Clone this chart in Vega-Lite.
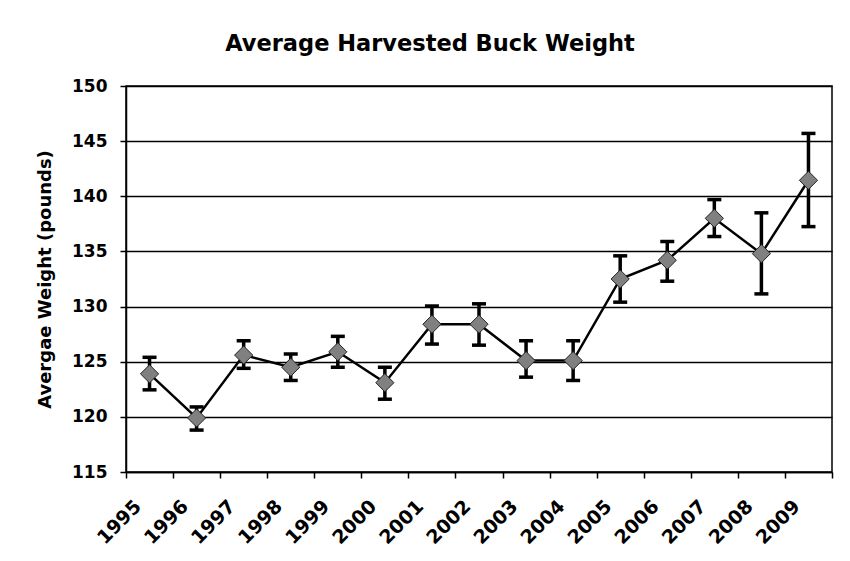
{
  "$schema": "https://vega.github.io/schema/vega-lite/v6.json",
  "autosize": "none",
  "width": 706,
  "height": 386,
  "padding": {"left": 126, "top": 86, "right": 18, "bottom": 89},
  "background": "white",
  "title": {
    "text": "Average Harvested Buck Weight",
    "anchor": "middle",
    "baseline": "alphabetic",
    "offset": 4,
    "dx": -49,
    "font": "DejaVu Sans",
    "fontSize": 22.5,
    "fontWeight": "bold",
    "color": "black"
  },
  "config": {
    "view": {"stroke": "black", "strokeWidth": 1.5},
    "axis": {
      "labelFont": "DejaVu Sans",
      "labelFontWeight": "bold",
      "labelColor": "black",
      "titleFont": "DejaVu Sans",
      "titleFontWeight": "bold",
      "titleColor": "black",
      "domainColor": "black",
      "domainWidth": 1.5,
      "tickColor": "black",
      "tickWidth": 1.5,
      "tickSize": 6
    }
  },
  "data": {
    "values": [
      {"year": "1995", "weight": 123.9, "lo": 122.45, "hi": 125.4},
      {"year": "1996", "weight": 119.9, "lo": 118.8, "hi": 120.9},
      {"year": "1997", "weight": 125.6, "lo": 124.4, "hi": 126.9},
      {"year": "1998", "weight": 124.5, "lo": 123.3, "hi": 125.7},
      {"year": "1999", "weight": 125.9, "lo": 124.5, "hi": 127.3},
      {"year": "2000", "weight": 123.1, "lo": 121.6, "hi": 124.5},
      {"year": "2001", "weight": 128.4, "lo": 126.6, "hi": 130.05},
      {"year": "2002", "weight": 128.4, "lo": 126.5, "hi": 130.25},
      {"year": "2003", "weight": 125.1, "lo": 123.6, "hi": 126.9},
      {"year": "2004", "weight": 125.1, "lo": 123.3, "hi": 126.9},
      {"year": "2005", "weight": 132.5, "lo": 130.4, "hi": 134.6},
      {"year": "2006", "weight": 134.2, "lo": 132.3, "hi": 135.9},
      {"year": "2007", "weight": 138.0, "lo": 136.35, "hi": 139.7},
      {"year": "2008", "weight": 134.8, "lo": 131.15, "hi": 138.5},
      {"year": "2009", "weight": 141.45, "lo": 137.25, "hi": 145.7}
    ]
  },
  "encoding": {
    "x": {
      "field": "year",
      "type": "ordinal",
      "scale": {"type": "band", "paddingInner": 0, "paddingOuter": 0},
      "axis": {
        "title": null,
        "tickBand": "extent",
        "labelAngle": -45,
        "labelAlign": "right",
        "labelBaseline": "middle",
        "labelOffset": -12,
        "labelPadding": 25,
        "labelFontSize": 19,
        "grid": false
      }
    }
  },
  "layer": [
    {
      "mark": {"type": "rule", "color": "black", "strokeWidth": 3.5},
      "encoding": {
        "y": {
          "field": "lo",
          "type": "quantitative",
          "scale": {"domain": [115, 150], "nice": false, "zero": false},
          "axis": {
            "title": "Avergae Weight (pounds)",
            "titleFontSize": 18,
            "titlePadding": 17,
            "values": [115, 120, 125, 130, 135, 140, 145, 150],
            "labelFontSize": 17,
            "labelPadding": 13,
            "grid": true,
            "gridColor": "black",
            "gridWidth": 1.3,
            "gridOpacity": 1
          }
        },
        "y2": {"field": "hi"}
      }
    },
    {
      "mark": {"type": "tick", "color": "black", "size": 14, "thickness": 3.5, "opacity": 1},
      "encoding": {"y": {"field": "lo", "type": "quantitative"}}
    },
    {
      "mark": {"type": "tick", "color": "black", "size": 14, "thickness": 3.5, "opacity": 1},
      "encoding": {"y": {"field": "hi", "type": "quantitative"}}
    },
    {
      "mark": {"type": "line", "color": "black", "strokeWidth": 2.5},
      "encoding": {"y": {"field": "weight", "type": "quantitative"}}
    },
    {
      "mark": {"type": "point", "shape": "diamond", "filled": true, "fill": "#808080", "stroke": "#222222", "strokeWidth": 1, "size": 330, "opacity": 1},
      "encoding": {"y": {"field": "weight", "type": "quantitative"}}
    }
  ]
}
